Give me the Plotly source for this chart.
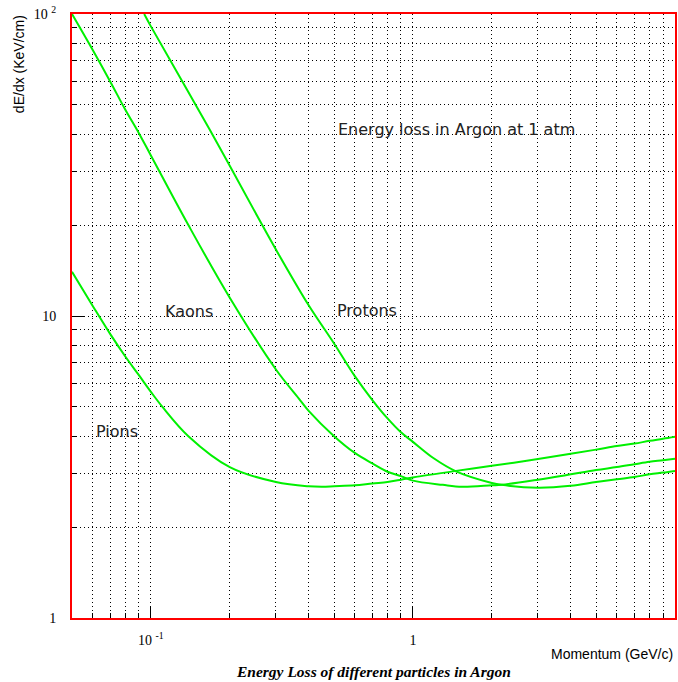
import math
import plotly.graph_objects as go

# ---- data (momentum in GeV/c, dE/dx in KeV/cm) ----
pion_p = [0.05, 0.06, 0.07, 0.08, 0.09, 0.1, 0.1107, 0.139, 0.2, 0.3, 0.4, 0.45, 0.5,
          0.6, 0.7, 0.8, 0.9, 1.0, 1.46, 2, 3, 4, 5, 6, 7, 8, 9, 10]
pion_dedx = [14.0, 10.8, 8.71, 7.33, 6.37, 5.61, 5.0, 4.0, 3.16, 2.82, 2.73, 2.72, 2.73,
             2.75, 2.79, 2.82, 2.87, 2.92, 3.07, 3.19, 3.36, 3.50, 3.61, 3.71, 3.78, 3.86, 3.92, 3.98]

kaon_p = [0.05, 0.06, 0.07, 0.08, 0.09, 0.1, 0.139, 0.2, 0.3, 0.367, 0.4, 0.5, 0.6, 0.7,
          0.8, 0.9, 1.0, 1.3, 1.54, 2, 2.18, 3, 4, 5, 6, 7, 8, 9, 10]
kaon_dedx = [100, 76, 59.7, 48.1, 40.3, 34.0, 20, 11.5, 6.65, 5.33, 4.85, 4.0, 3.52, 3.25,
             3.05, 2.95, 2.85, 2.76, 2.72, 2.75, 2.76, 2.87, 2.99, 3.09, 3.16, 3.23, 3.29, 3.33, 3.37]

proton_p = [0.0943, 0.1, 0.168, 0.266, 0.3, 0.4, 0.5, 0.6, 0.7, 0.8, 0.9, 1.0,
            1.2, 1.46, 2, 2.18, 3, 4, 5, 6, 7, 8, 9, 10]
proton_dedx = [100, 91, 41.3, 20, 16.6, 10.85, 8.11, 6.32, 5.27, 4.58, 4.12, 3.83,
               3.38, 3.06, 2.80, 2.76, 2.70, 2.74, 2.82, 2.88, 2.93, 2.99, 3.03, 3.07]

x_major = [0.1, 1]
x_major_text = ["10 <sup>-1</sup>", "1"]
x_minor = [0.06, 0.07, 0.08, 0.09, 0.2, 0.3, 0.4, 0.5, 0.6, 0.7, 0.8, 0.9,
           2, 3, 4, 5, 6, 7, 8, 9]
y_major = [1, 10, 100]
y_major_text = ["1", "10", "10 <sup>2</sup>"]
y_minor = [2, 3, 4, 5, 6, 7, 8, 9, 20, 30, 40, 50, 60, 70, 80, 90]

# labels (text, momentum, dE/dx)
labels = [
    ("Energy loss in Argon at 1 atm", 0.508, 41.6),
    ("Kaons", 0.111, 10.35),
    ("Protons", 0.505, 10.4),
    ("Pions", 0.0608, 4.16),
]

GREEN = "#00f000"
fig = go.Figure()
for px_, py_ in [(pion_p, pion_dedx), (kaon_p, kaon_dedx), (proton_p, proton_dedx)]:
    fig.add_trace(go.Scatter(x=px_, y=py_, mode="lines",
                             line=dict(color=GREEN, width=2, shape="spline", smoothing=1.0),
                             showlegend=False, hoverinfo="skip", cliponaxis=True))

grid_dash = "1px,3px"
axis_common = dict(
    type="log",
    showline=True, linecolor="red", linewidth=2, mirror=True,
    ticks="inside", ticklen=12, tickcolor="black", tickwidth=1,
    showgrid=True, gridcolor="black", gridwidth=1, griddash=grid_dash,
    zeroline=False, ticklabeloverflow="allow",
    tickfont=dict(family="Liberation Serif", size=14, color="black"),
)

fig.update_xaxes(
    **axis_common,
    range=[math.log10(0.05), 1],
    tickmode="array", tickvals=x_major, ticktext=x_major_text,
    ticklabelstandoff=8,
    minor=dict(tickmode="array", tickvals=x_minor, ticks="inside", ticklen=5,
               tickcolor="black", showgrid=True, gridcolor="black",
               gridwidth=1, griddash=grid_dash),
)
fig.update_yaxes(
    **axis_common,
    range=[0, 2],
    tickmode="array", tickvals=y_major, ticktext=y_major_text,
    ticklabelstandoff=11,
    minor=dict(tickmode="array", tickvals=y_minor, ticks="inside", ticklen=5,
               tickcolor="black", showgrid=True, gridcolor="black",
               gridwidth=1, griddash=grid_dash),
)

annots = []
for txt, xp, yp in labels:
    annots.append(dict(text=txt, x=math.log10(xp), y=math.log10(yp), xref="x", yref="y",
                       xanchor="left", yanchor="middle", showarrow=False,
                       font=dict(family="DejaVu Sans", size=16, color="#222222")))
annots.append(dict(text="dE/dx (KeV/cm)", x=-0.089, y=1.002, xref="paper", yref="paper",
                   xanchor="center", yanchor="top", textangle=-90, showarrow=False,
                   font=dict(family="Liberation Sans", size=14, color="black")))
annots.append(dict(text="Momentum (GeV/c)", x=1.0, y=-0.06, xref="paper", yref="paper",
                   xanchor="right", yanchor="middle", showarrow=False,
                   font=dict(family="Liberation Sans", size=14, color="black")))
annots.append(dict(text="<b><i>Energy Loss of different particles in Argon</i></b>",
                   x=0.5, y=-0.088, xref="paper", yref="paper",
                   xanchor="center", yanchor="middle", showarrow=False,
                   font=dict(family="Liberation Serif", size=15.5, color="black")))

fig.update_layout(
    width=678, height=682,
    margin=dict(l=72, r=1, t=14, b=64),
    paper_bgcolor="white", plot_bgcolor="white",
    annotations=annots,
    showlegend=False,
)

# remove the default page margin / scrollbars so the figure fills the window
fig.write_html(
    "out.html",
    config={"displayModeBar": False},
    post_script="document.body.style.margin='0';document.body.style.overflow='hidden';"
                "document.documentElement.style.overflow='hidden';",
)
